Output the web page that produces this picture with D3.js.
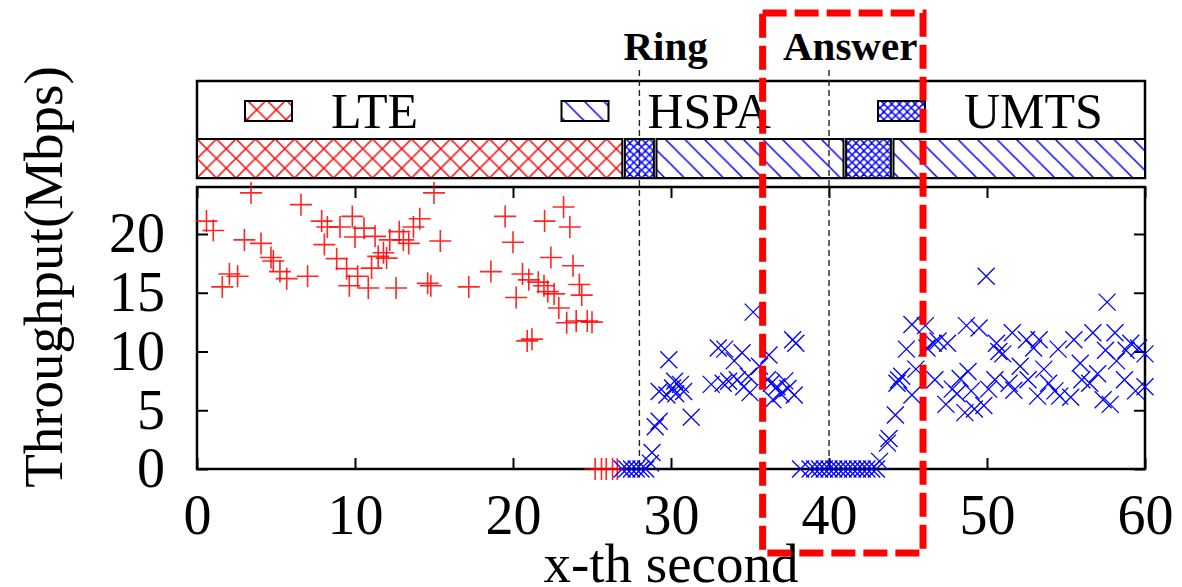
<!DOCTYPE html>
<html>
<head>
<meta charset="utf-8">
<script src="https://cdn.jsdelivr.net/npm/d3@7"></script>
<style>
  body { margin: 0; background: #fff; }
  text { font-family: "Liberation Serif", "Times New Roman", serif; }
</style>
</head>
<body>
<div id="chart"></div>
<script>
// ---- data ----
const xTicks = [0, 10, 20, 30, 40, 50, 60];
const yTicks = [0, 5, 10, 15, 20];
const networks = ["LTE", "HSPA", "UMTS"];
// network in use: [type, start second, end second]
const segments = [["LTE", 0, 27], ["UMTS", 27, 29], ["HSPA", 29, 41], ["UMTS", 41, 44], ["HSPA", 44, 60]];
const events = [["Ring", 28], ["Answer", 40]];
const highlightRange = [35.8, 45.95];

// LTE throughput [second, Mbps]
const lteData = [
  [0.6, 21.1], [1.03, 20.3], [1.6, 15.5], [2.05, 16.6], [2.57, 16.4], [3.0, 19.5], [3.42, 23.5],
  [4.05, 19.2], [4.68, 18.0], [4.83, 17.7], [5.25, 16.8], [5.68, 16.2], [6.58, 22.5], [7.0, 16.4],
  [7.89, 21.1], [8.06, 19.1], [8.25, 20.6], [8.84, 17.9], [9.05, 20.6], [9.47, 17.05], [9.64, 15.6],
  [9.83, 21.5], [10.0, 19.75], [10.17, 16.4], [10.57, 20.5], [10.84, 15.4], [11.05, 17.1], [11.27, 19.8],
  [11.47, 18.1], [11.8, 18.4], [12.0, 17.95], [12.2, 19.5], [12.6, 15.4], [12.8, 20.2], [13.06, 19.5],
  [13.4, 19.2], [13.7, 20.6], [14.1, 21.3], [14.6, 15.8], [14.8, 15.6], [15.0, 23.5], [15.4, 19.4],
  [17.2, 15.5], [18.6, 16.8], [19.5, 21.5], [20.0, 19.3], [20.2, 14.6], [20.6, 16.6], [20.9, 10.9],
  [21.0, 16.1], [21.2, 11.05], [21.6, 15.9], [21.96, 15.6], [22.0, 21.1], [22.2, 15.1], [22.4, 18.0],
  [22.6, 14.9], [22.9, 13.7], [23.2, 22.3], [23.4, 12.45], [23.6, 20.6], [23.8, 17.3], [24.0, 12.6],
  [24.2, 15.7], [24.35, 14.8], [24.7, 12.6], [25.0, 12.5],
  [25.2, 0], [25.6, 0], [25.9, 0], [26.3, 0], [26.6, 0]
];

// 3G (HSPA/UMTS) throughput [second, Mbps]
const umtsData = [
  [26.9, 0], [27.2, 0], [27.5, 0], [27.8, 0], [28.1, 0], [28.4, 0], [28.7, 0.5], [28.8, 1.4],
  [29.0, 3.6], [29.25, 4.06], [29.25, 6.6], [29.74, 6.3], [29.86, 9.3], [30.1, 6.9], [30.23, 7.47],
  [30.3, 6.4], [30.6, 7.2], [30.8, 6.6], [31.28, 4.4], [32.55, 7.2], [32.99, 10.3], [33.3, 7.3],
  [33.4, 10.2], [33.65, 7.47], [34.0, 9.2], [34.2, 7.6], [34.5, 9.9], [34.6, 7.0], [34.9, 7.9],
  [35.0, 6.5], [35.2, 13.35], [35.6, 8.75], [36.1, 7.6], [36.2, 9.7], [36.35, 7.3], [36.45, 5.9],
  [36.7, 7.0], [36.95, 6.4], [37.2, 7.5], [37.4, 6.85], [37.7, 11.0], [37.8, 6.3], [37.9, 10.7],
  [38.2, 0], [38.8, 0], [39.1, 0], [39.4, 0], [39.7, 0], [40.0, 0], [40.3, 0], [40.6, 0], [40.9, 0],
  [41.2, 0], [41.5, 0], [41.8, 0], [42.1, 0], [42.4, 0], [42.7, 0], [43.0, 0], [43.2, 0.65],
  [43.7, 2.2], [43.8, 2.6], [44.2, 4.6], [44.3, 7.3], [44.4, 7.6], [44.6, 7.9], [44.9, 10.2],
  [45.25, 12.3], [45.25, 6.3], [45.5, 8.5], [46.1, 12.2], [46.2, 10.3], [46.6, 10.7], [46.7, 7.6],
  [46.9, 10.9], [47.4, 5.5], [47.5, 10.7], [47.8, 6.8], [48.1, 6.4], [48.3, 7.7], [48.6, 4.8],
  [48.7, 12.2], [48.8, 8.3], [49.0, 6.65], [49.2, 5.1], [49.5, 12.0], [49.8, 5.4], [49.95, 16.4],
  [50.1, 6.8], [50.5, 7.6], [50.6, 10.7], [50.75, 10.0], [51.0, 9.8], [51.4, 7.3], [51.6, 11.6],
  [51.7, 6.7], [52.1, 8.75], [52.5, 11.0], [52.6, 7.6], [52.95, 10.3], [53.2, 6.2], [53.3, 11.0],
  [53.6, 8.5], [53.9, 7.3], [54.3, 6.65], [54.5, 10.2], [54.6, 6.2], [55.3, 6.1], [55.5, 11.0],
  [55.9, 9.0], [56.0, 7.6], [56.5, 7.3], [56.7, 11.6], [57.0, 8.1], [57.35, 5.9], [57.5, 10.1],
  [57.6, 14.2], [57.8, 5.5], [58.1, 11.6], [58.2, 9.2], [58.7, 7.6], [58.8, 10.1], [59.1, 10.7],
  [59.4, 6.65], [59.6, 10.3], [60.0, 9.8], [60.0, 7.0]
];

// ---- layout ----
const W = 1182, H = 587;
const plot = { left: 197, right: 1145, top: 187, bottom: 469 };
const box = { top: 81, mid: 139, bottom: 178 };
const RED = "#ff0000", BLUE = "#0000ff";

const svg = d3.select("#chart").append("svg")
  .attr("width", W).attr("height", H);
svg.append("rect").attr("width", W).attr("height", H).attr("fill", "#fff");

const x = d3.scaleLinear().domain([0, 60]).range([plot.left, plot.right]);
const y = d3.scaleLinear().domain([0, 24]).range([plot.bottom, plot.top]);

// hatch patterns
const defs = svg.append("defs");
function hatch(id, size, color, both) {
  const p = defs.append("pattern").attr("id", id)
    .attr("patternUnits", "userSpaceOnUse")
    .attr("width", size).attr("height", size)
    .attr("x", plot.left).attr("y", box.mid);
  p.append("rect").attr("width", size).attr("height", size).attr("fill", "#fff");
  let d = `M0,0L${size},${size}M${-size / 2},${size / 2}L${size / 2},${size * 1.5}M${size / 2},${-size / 2}L${size * 1.5},${size / 2}`;
  if (both) d += `M0,${size}L${size},0M${-size / 2},${size / 2}L${size / 2},${-size / 2}M${size / 2},${size * 1.5}L${size * 1.5},${size / 2}`;
  p.append("path").attr("d", d).attr("stroke", color).attr("stroke-width", 1.5).attr("fill", "none");
}
hatch("p-LTE", 19.5, RED, true);
hatch("p-HSPA", 19.5, BLUE, false);
hatch("p-UMTS", 7.8, BLUE, true);

// legend / network box
svg.append("rect")
  .attr("x", plot.left).attr("y", box.top)
  .attr("width", plot.right - plot.left).attr("height", box.bottom - box.top)
  .attr("fill", "#fff").attr("stroke", "#000").attr("stroke-width", 2.5);

svg.selectAll(".seg").data(segments).enter().append("rect")
  .attr("class", "seg")
  .attr("x", d => x(d[1]) + (d[1] === 0 ? 0 : 1.3))
  .attr("y", box.mid)
  .attr("width", d => x(d[2]) - x(d[1]) - (d[1] === 0 ? 1.3 : 2.6) + (d[2] === 60 ? 1.3 : 0))
  .attr("height", box.bottom - box.mid)
  .attr("fill", d => `url(#p-${d[0]})`)
  .attr("stroke", "#000").attr("stroke-width", 2);

const legend = svg.selectAll(".leg").data(networks).enter().append("g")
  .attr("class", "leg")
  .attr("transform", (d, i) => `translate(${plot.left + 48 + i * 316.5},0)`);
legend.append("rect")
  .attr("x", 0).attr("y", 101).attr("width", 47).attr("height", 20)
  .attr("fill", d => `url(#p-${d})`).attr("stroke", "#000").attr("stroke-width", 2);
legend.append("text")
  .attr("x", 86).attr("y", 128)
  .attr("font-size", 50)
  .text(d => d);

// axes with inward ticks, mirrored
function styleAxis(g) {
  g.select(".domain").remove();
  g.selectAll(".tick line").attr("stroke", "#000").attr("stroke-width", 2);
  g.selectAll(".tick text").attr("font-size", 56).attr("fill", "#000")
    .attr("font-family", "Liberation Serif, Times New Roman, serif");
}
svg.append("g").attr("transform", `translate(0,${plot.bottom})`)
  .call(d3.axisBottom(x).tickValues(xTicks).tickSize(-11).tickPadding(25))
  .call(styleAxis);
svg.append("g").attr("transform", `translate(0,${plot.top})`)
  .call(d3.axisTop(x).tickValues(xTicks).tickSize(-11).tickFormat(""))
  .call(styleAxis);
svg.append("g").attr("transform", `translate(${plot.left},0)`)
  .call(d3.axisLeft(y).tickValues(yTicks).tickSize(-11).tickPadding(32))
  .call(styleAxis);
svg.append("g").attr("transform", `translate(${plot.right},0)`)
  .call(d3.axisRight(y).tickValues(yTicks).tickSize(-11).tickFormat(""))
  .call(styleAxis);

svg.append("rect")
  .attr("x", plot.left).attr("y", plot.top)
  .attr("width", plot.right - plot.left).attr("height", plot.bottom - plot.top)
  .attr("fill", "none").attr("stroke", "#000").attr("stroke-width", 2.5);

// event lines and labels
const labelShift = { Ring: -16, Answer: -46 };
svg.selectAll(".ev").data(events).enter().append("line")
  .attr("class", "ev")
  .attr("x1", d => x(d[1])).attr("x2", d => x(d[1]))
  .attr("y1", 70).attr("y2", plot.bottom)
  .attr("stroke", "#222").attr("stroke-width", 1.4).attr("stroke-dasharray", "6,4");
svg.selectAll(".evl").data(events).enter().append("text")
  .attr("class", "evl")
  .attr("x", d => x(d[1]) + labelShift[d[0]]).attr("y", 60)
  .attr("font-size", 41).attr("font-weight", "bold")
  .text(d => d[0]);

// points
svg.append("g").selectAll("path").data(lteData).enter().append("path")
  .attr("transform", d => `translate(${x(d[0])},${y(d[1])})`)
  .attr("d", "M-11,0H11M0,-11V11")
  .attr("stroke", RED).attr("stroke-width", 1.6).attr("stroke-opacity", 0.85);
svg.append("g").selectAll("path").data(umtsData).enter().append("path")
  .attr("transform", d => `translate(${x(d[0])},${y(d[1])})`)
  .attr("d", "M-8.5,-8.5L8.5,8.5M-8.5,8.5L8.5,-8.5")
  .attr("stroke", BLUE).attr("stroke-width", 1.3);

// axis titles
svg.append("text")
  .attr("x", (plot.left + plot.right) / 2).attr("y", 582)
  .attr("text-anchor", "middle").attr("font-size", 55)
  .text("x-th second");
svg.append("text")
  .attr("transform", "translate(62,277) rotate(-90)")
  .attr("text-anchor", "middle").attr("font-size", 55)
  .text("Throughput(Mbps)");

// red highlight box
svg.append("rect")
  .attr("x", x(highlightRange[0])).attr("y", 13)
  .attr("width", x(highlightRange[1]) - x(highlightRange[0])).attr("height", 540)
  .attr("fill", "none").attr("stroke", RED).attr("stroke-width", 7)
  .attr("stroke-dasharray", "24,8");
</script>
</body>
</html>
